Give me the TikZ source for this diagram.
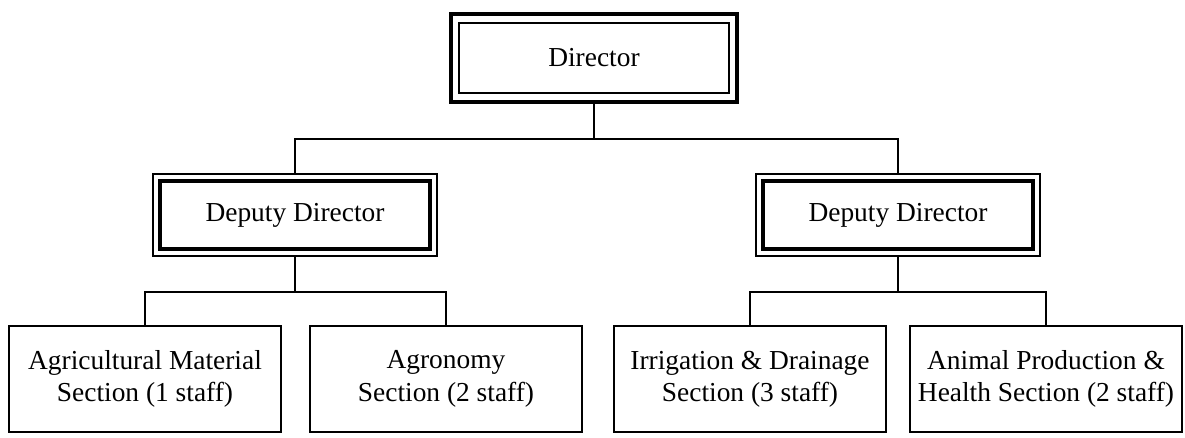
\documentclass[tikz,border=0pt]{standalone}
\usepackage{fontspec}
\setmainfont{Liberation Serif}
\usetikzlibrary{positioning}

\begin{document}
\begin{tikzpicture}[x=0.025cm, y=-0.025cm,
    orgtext/.style={font=\fontsize{19.5}{23}\selectfont, align=center, inner sep=0pt, outer sep=0pt},
    topbox/.style={orgtext, draw, line width=3.4pt, minimum width=7.15cm, minimum height=2.2cm},
    depbox/.style={orgtext, draw, line width=1.1pt, minimum width=7.1cm, minimum height=2.05cm},
    secbox/.style={orgtext, draw, line width=1.7pt, minimum width=6.8cm, minimum height=2.65cm},
    link/.style={line width=1.6pt}]
  \useasboundingbox (0,0) rectangle (1185,437);

  % Director with double frame
  \node[topbox] (dir) at (594,58) {Director};
  \draw[line width=1.5pt] ([shift={(8,9)}]dir.north west) rectangle ([shift={(-8,-9)}]dir.south east);

  % Deputies, thin outer frame and heavy inner frame
  \node[depbox] (depL) at (295,215) {Deputy Director};
  \node[depbox] (depR) at (898,215) {Deputy Director};
  \foreach \d in {depL,depR}
    \draw[line width=3pt] ([shift={(7,7)}]\d.north west) rectangle ([shift={(-7,-7)}]\d.south east);

  % Sections
  \node[secbox] (secA) at (145,379) {Agricultural Material\\Section (1 staff)};
  \node[secbox] (secB) at (446,379) {Agronomy\\Section (2 staff)};
  \node[secbox] (secC) at (750,379) {Irrigation \& Drainage\\Section (3 staff)};
  \node[secbox] (secD) at (1046,379) {Animal Production \&\\Health Section (2 staff)};

  % Connectors
  \coordinate (busTop) at (0,139);
  \coordinate (busLow) at (0,292);
  \draw[link] (dir.south) -- (dir.south |- busTop);
  \draw[link] (depL.north) -- (depL.north |- busTop) -- (depR.north |- busTop) -- (depR.north);
  \draw[link] (depL.south) -- (depL.south |- busLow);
  \draw[link] (secA.north) -- (secA.north |- busLow) -- (secB.north |- busLow) -- (secB.north);
  \draw[link] (depR.south) -- (depR.south |- busLow);
  \draw[link] (secC.north) -- (secC.north |- busLow) -- (secD.north |- busLow) -- (secD.north);
\end{tikzpicture}
\end{document}
